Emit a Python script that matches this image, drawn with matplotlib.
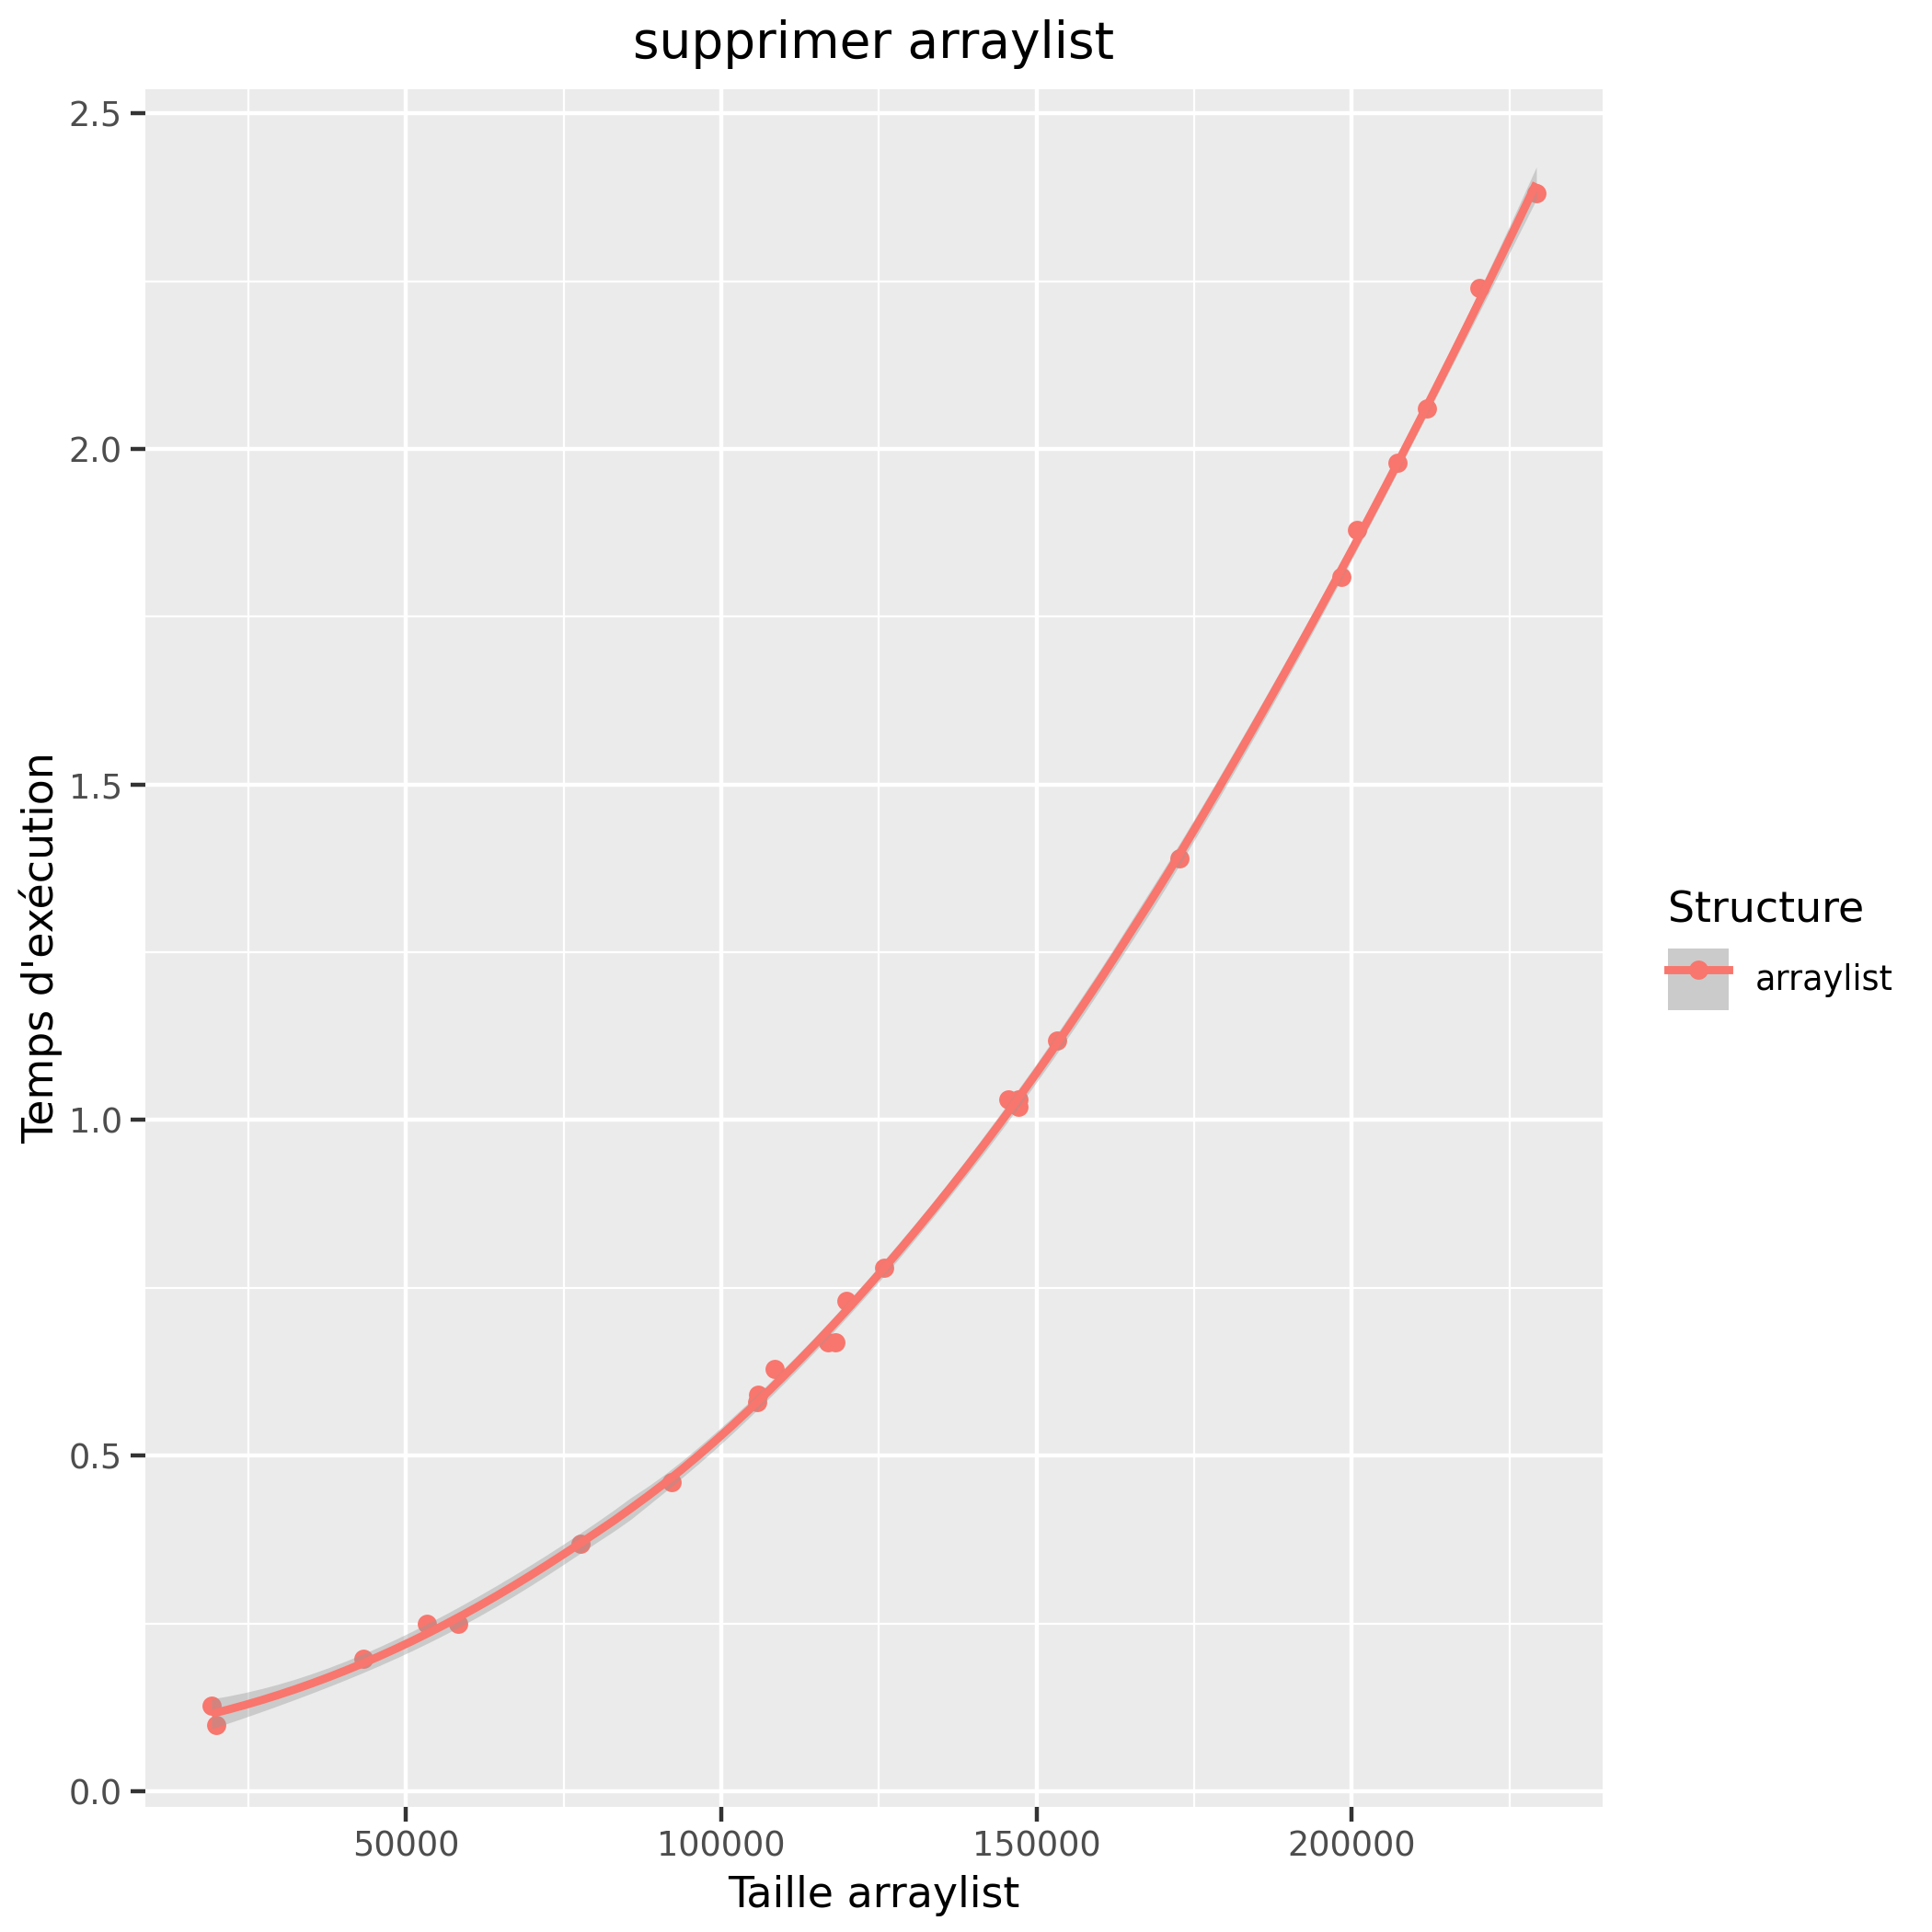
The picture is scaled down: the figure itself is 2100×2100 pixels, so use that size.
import numpy as np
import matplotlib
matplotlib.use('Agg')
import matplotlib.pyplot as plt
from matplotlib.patches import Patch
from matplotlib.lines import Line2D
from matplotlib.legend_handler import HandlerTuple
from matplotlib.ticker import MultipleLocator

# valeurs
taille = [19141, 19922, 43164, 53320, 58203, 77734, 92188, 105664, 105860,
          108398, 116992, 118164, 119922, 125781, 145508, 147070, 147070,
          153320, 172656, 198437, 200781, 207227, 211914, 220312, 229297]
temps = [0.128, 0.099, 0.198, 0.249, 0.249, 0.369, 0.460, 0.580, 0.591,
         0.629, 0.669, 0.669, 0.730, 0.780, 1.031, 1.031, 1.020,
         1.119, 1.390, 1.810, 1.880, 1.979, 2.060, 2.240, 2.381]
structure = 'arraylist'

ROUGE = '#F8766D'


def loess_matrix(x, x0s, span=0.75):
    # loess local quadratique, poids tricube (comme R)
    n = len(x)
    q = int(np.floor(span * n))
    L = np.zeros((len(x0s), n))
    for k, x0 in enumerate(x0s):
        d = np.abs(x - x0)
        h = np.sort(d)[q - 1]
        w = np.clip(1 - (d / h) ** 3, 0, None) ** 3
        X = np.column_stack([np.ones(n), x - x0, (x - x0) ** 2])
        XtW = X.T * w
        L[k] = np.linalg.solve(XtW @ X, XtW)[0]
    return L


def t_quantile(df, z=1.959964):
    return (z + (z**3 + z) / (4 * df)
            + (5 * z**5 + 16 * z**3 + 3 * z) / (96 * df**2))


x = np.array(taille) / 1e5
y = np.array(temps)
xs = np.linspace(x.min(), x.max(), 80)

Ld = loess_matrix(x, x)
R = np.eye(len(x)) - Ld
RR = R.T @ R
d1 = np.trace(RR)
d2 = np.trace(RR @ RR)
s = np.sqrt(np.sum((R @ y) ** 2) / d1)
Ls = loess_matrix(x, xs)
fit = Ls @ y
se = s * np.sqrt(np.sum(Ls ** 2, axis=1))
tq = t_quantile(d1 ** 2 / d2)
lo, hi = fit - tq * se, fit + tq * se

fig = plt.figure(figsize=(7, 7), dpi=300)
ax = fig.add_axes([0.0752, 0.0648, 0.7543, 0.8892])
ax.set_facecolor('#EBEBEB')
for sp in ax.spines.values():
    sp.set_visible(False)

ax.scatter(taille, temps, s=5.0**2, color=ROUGE, linewidths=0, zorder=3)
ax.fill_between(xs * 1e5, lo, hi, color='#999999', alpha=0.4, linewidth=0, zorder=4)
ax.plot(xs * 1e5, fit, color=ROUGE, lw=2.13, zorder=5, solid_capstyle='butt')

xmin, xmax = min(taille), max(taille)
ymin, ymax = min(lo.min(), min(temps)), max(hi.max(), max(temps))
ax.set_xlim(xmin - 0.05 * (xmax - xmin), xmax + 0.05 * (xmax - xmin))
ax.set_ylim(ymin - 0.05 * (ymax - ymin), ymax + 0.05 * (ymax - ymin))

ax.xaxis.set_major_locator(MultipleLocator(50000))
ax.xaxis.set_minor_locator(MultipleLocator(25000))
ax.yaxis.set_major_locator(MultipleLocator(0.5))
ax.yaxis.set_minor_locator(MultipleLocator(0.25))
ax.set_yticks(np.arange(0, 2.51, 0.5))
ax.set_yticklabels([f'{v:.1f}' for v in np.arange(0, 2.51, 0.5)])
ax.grid(which='major', color='white', lw=1.07)
ax.grid(which='minor', color='white', lw=0.53)
ax.set_axisbelow(True)
ax.tick_params(which='major', length=3.8, width=1.07, color='#333333',
               labelsize=8.8, labelcolor='#4D4D4D', pad=2.2)
ax.tick_params(which='minor', length=0)

ax.set_title('supprimer arraylist', fontsize=13.2, pad=8)
ax.set_xlabel('Taille arraylist', fontsize=11, labelpad=3)
ax.set_ylabel("Temps d'exécution", fontsize=11, labelpad=1.5)

patch = Patch(facecolor='#CBCBCB', edgecolor='none')
ligne = Line2D([], [], color=ROUGE, lw=2.13, marker='o', markersize=5.0,
               markeredgewidth=0)
fig.legend(handles=[(patch, ligne)], labels=[structure], title='Structure',
           handler_map={tuple: HandlerTuple(ndivide=1, pad=0)},
           loc='center left', bbox_to_anchor=(0.8545, 0.508), frameon=False,
           fontsize=8.8, title_fontsize=11, handlelength=1.8,
           handleheight=2.44, handletextpad=0.8, borderpad=0,
           alignment='left')

fig.savefig('out.png', dpi=300, facecolor='white')
